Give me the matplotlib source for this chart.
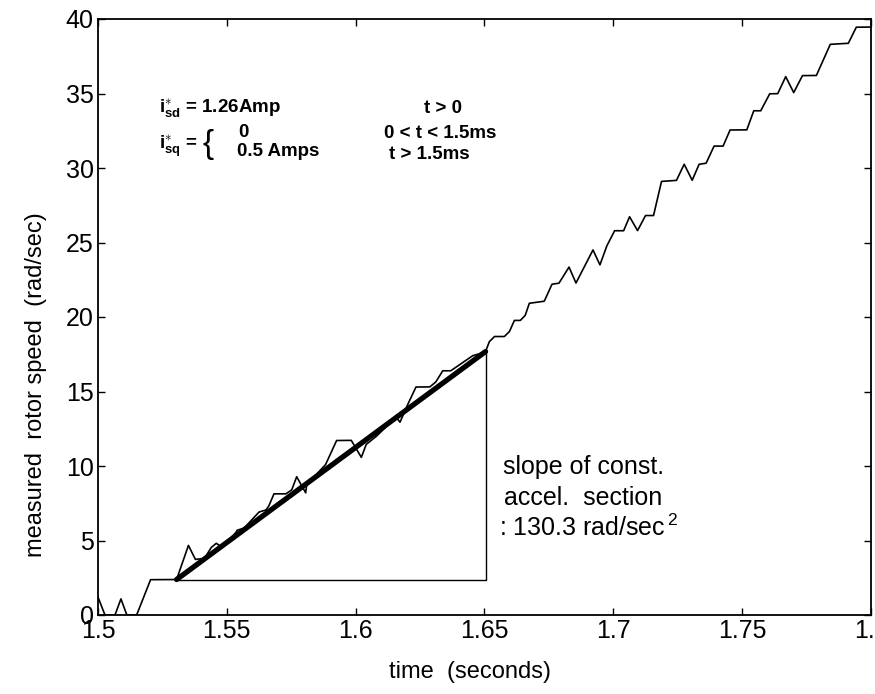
import numpy as np
import matplotlib.pyplot as plt

plt.rcParams['font.family'] = ['Liberation Sans', 'DejaVu Sans']
plt.rcParams['mathtext.fontset'] = 'custom'
plt.rcParams['mathtext.rm'] = 'Liberation Sans'
plt.rcParams['mathtext.bf'] = 'Liberation Sans:bold'
plt.rcParams['mathtext.it'] = 'Liberation Sans:italic'

#################################################

# measured rotor speed
t = [1.5000, 1.5027, 1.5066, 1.5089, 1.5112, 1.5150, 1.5204, 1.5305, 1.5351, 1.5378,
     1.5413, 1.5440, 1.5459, 1.5482, 1.5536, 1.5540, 1.5567, 1.5625, 1.5652, 1.5663,
     1.5683, 1.5729, 1.5752, 1.5771, 1.5806, 1.5810, 1.5883, 1.5926, 1.5983, 1.6022,
     1.6041, 1.6080, 1.6157, 1.6172, 1.6203, 1.6234, 1.6288, 1.6311, 1.6338, 1.6369,
     1.6454, 1.6481, 1.6504, 1.6519, 1.6539, 1.6577, 1.6597, 1.6616, 1.6639, 1.6658,
     1.6674, 1.6732, 1.6762, 1.6789, 1.6828, 1.6855, 1.6921, 1.6948, 1.6975, 1.7005,
     1.7040, 1.7063, 1.7094, 1.7125, 1.7156, 1.7187, 1.7245, 1.7275, 1.7306, 1.7333,
     1.7360, 1.7391, 1.7426, 1.7453, 1.7518, 1.7545, 1.7572, 1.7607, 1.7638, 1.7669,
     1.7700, 1.7734, 1.7788, 1.7842, 1.7912, 1.7943, 1.8000]
speed = [1.2, 0.0, 0.0, 1.08, 0.0, 0.0, 2.37, 2.38, 4.67, 3.73,
         3.80, 4.54, 4.81, 4.55, 5.56, 5.69, 5.83, 6.91, 7.05, 7.32,
         8.13, 8.13, 8.40, 9.28, 8.20, 8.74, 10.09, 11.71, 11.72, 10.58,
         11.45, 11.99, 13.28, 12.94, 14.16, 15.30, 15.31, 15.64, 16.39, 16.39,
         17.40, 17.54, 17.68, 18.35, 18.69, 18.69, 19.03, 19.77, 19.77, 20.11,
         20.92, 21.06, 22.20, 22.27, 23.35, 22.28, 24.50, 23.50, 24.78, 25.79,
         25.79, 26.73, 25.80, 26.81, 26.81, 29.10, 29.17, 30.25, 29.18, 30.25,
         30.32, 31.47, 31.47, 32.55, 32.56, 33.84, 33.84, 34.98, 34.99, 36.13,
         35.06, 36.20, 36.21, 38.30, 38.37, 39.45, 39.46]

# constant acceleration fit and its triangle
fit_t = [1.5305, 1.6504]
fit_w = [2.38, 17.68]

#################################################

fig = plt.figure(figsize=(8.75, 6.94), dpi=100)
ax = fig.add_axes([98/875, (694-615)/694, (871-98)/875, (615-19)/694])

ax.plot(t, speed, color='black', lw=1.2)
ax.plot(fit_t, fit_w, color='black', lw=3.8, solid_capstyle='round')
ax.plot([fit_t[0], fit_t[1], fit_t[1]], [fit_w[0], fit_w[0], fit_w[1]], color='black', lw=1.0)

ax.set_xlim(1.5, 1.8)
ax.set_ylim(0, 40)
ax.set_xticks([1.5, 1.55, 1.6, 1.65, 1.7, 1.75, 1.8])
ax.set_xticklabels(['1.5', '1.55', '1.6', '1.65', '1.7', '1.75', '1.8'])
ax.set_yticks(range(0, 41, 5))
ax.tick_params(direction='in', length=5, width=1, top=True, right=True, labelsize=18, pad=3)
for s in ax.spines.values():
    s.set_linewidth(1.3)

ax.set_xlabel('time  (seconds)', fontsize=17)
ax.set_ylabel('measured  rotor speed  (rad/sec)', fontsize=17)
ax.xaxis.set_label_coords(0.481, -0.077)
ax.yaxis.set_label_coords(-0.066, 0.386)

# operating conditions
ax.text(1.5235, 34.0, r'$\mathbf{i}_{\mathbf{sd}}^{\ast}$ = 1.26Amp', fontsize=13.5, fontweight='bold', va='center')
ax.text(1.6265, 34.0, 't > 0', fontsize=13.5, fontweight='bold', va='center')
ax.text(1.5235, 31.5, r'$\mathbf{i}_{\mathbf{sq}}^{\ast}$ =', fontsize=13.5, fontweight='bold', va='center')
ax.text(1.5405, 31.6, '{', fontsize=24, va='center')
ax.text(1.5545, 32.4, '0', fontsize=13.5, fontweight='bold', va='center')
ax.text(1.5540, 31.1, '0.5 Amps', fontsize=13.5, fontweight='bold', va='center')
ax.text(1.6110, 32.3, '0 < t < 1.5ms', fontsize=13.5, fontweight='bold', va='center')
ax.text(1.6130, 30.9, 't > 1.5ms', fontsize=13.5, fontweight='bold', va='center')

ax.text(1.6572, 9.9, 'slope of const.', fontsize=18, va='center')
ax.text(1.6576, 7.85, 'accel.  section', fontsize=18, va='center')
ax.text(1.6556, 5.85, r': 130.3 rad/sec$^{\,2}$', fontsize=18, va='center')

plt.savefig('out.png', dpi=100)
